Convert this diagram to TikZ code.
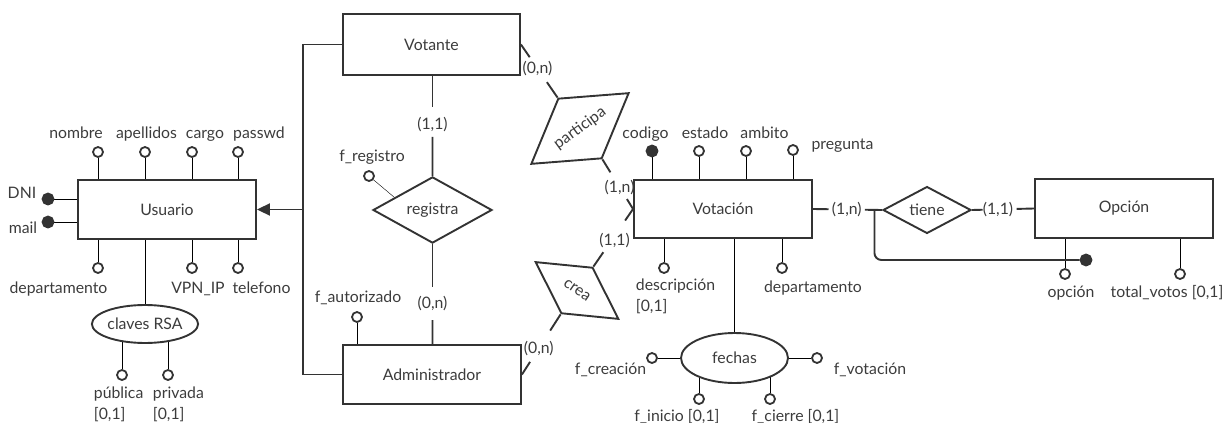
\documentclass[tikz,border=0pt]{standalone}
\usepackage{fontspec}
\setmainfont{Lato}
\usetikzlibrary{shapes.geometric,arrows.meta,calc,backgrounds}
\definecolor{ink}{HTML}{333333}
\definecolor{txt}{HTML}{3C3C3C}
\begin{document}
\begin{tikzpicture}[x=1pt,y=-1pt,line width=1.9pt,color=ink,
  txtfont/.style={font=\fontsize{15.8}{18}\selectfont,text=txt},
  entity/.style={draw,rectangle,fill=white,inner sep=0pt,txtfont},
  rel/.style={draw,diamond,fill=white,inner sep=0pt,txtfont},
  multi/.style={draw,ellipse,fill=white,inner sep=0pt,txtfont},
  attr/.style={draw,circle,fill=white,inner sep=0pt,minimum size=10pt,line width=1.8pt},
  keyattr/.style={attr,fill=ink,minimum size=11pt},
  lab/.style={inner sep=0pt,txtfont,anchor=base},
  labl/.style={inner sep=0pt,txtfont,anchor=base west},
  card/.style={inner sep=0pt,txtfont}]
\useasboundingbox (0,0) rectangle (1224,423);

% ---------- entities ----------
\node[entity,minimum width=178pt,minimum height=59pt] (us) at (167,209.5) {Usuario};
\node[entity,minimum width=177pt,minimum height=61pt] (vot) at (431.5,44.5) {Votante};
\node[entity,minimum width=178pt,minimum height=59pt] (adm) at (432,374.5) {Administrador};
\node[entity,minimum width=178pt,minimum height=58pt] (vt) at (723,209) {Votación};
\node[entity,minimum width=178pt,minimum height=59pt] (op) at (1124,208.5) {Opción};

% ---------- relationships ----------
\node[rel,minimum width=119pt,minimum height=58pt] (reg) at (432.5,210) {registra};
\node[rel,minimum width=121pt,minimum height=49pt,rotate=36] (part) at (580,128.5) {participa};
\node[rel,minimum width=101pt,minimum height=56pt,rotate=-34.5] (crea) at (577,290.5) {crea};
\node[rel,minimum width=88pt,minimum height=36pt] (tiene) at (927,210) {tiene};

% ---------- composite attributes ----------
\node[multi,minimum width=106pt,minimum height=38pt] (rsa) at (145,324) {claves RSA};
\node[multi,minimum width=107pt,minimum height=50pt] (fe) at (734.5,358) {fechas};

% ---------- Usuario attributes ----------
\node[attr] (nom) at (98,152) {};
\node[attr] (ape) at (145,152) {};
\node[attr] (car) at (192,152) {};
\node[attr] (pas) at (238,152) {};
\node[keyattr] (dni) at (48,199) {};
\node[keyattr] (mail) at (48,222) {};
\node[attr] (dep) at (98,268) {};
\node[attr] (vpn) at (192,268) {};
\node[attr] (tel) at (238,268) {};
\node[attr] (pub) at (122,375) {};
\node[attr] (pri) at (168,375) {};

\node[lab] (lnom) at (76,138) {nombre};
\node[lab] (lape) at (146.5,138) {apellidos};
\node[lab] (lcar) at (205,138) {cargo};
\node[lab] (lpas) at (259,138) {passwd};
\node[lab] (ldni) at (22,198) {DNI};
\node[lab] (lmail) at (23,233) {mail};
\node[lab] (ldep) at (58.5,293) {departamento};
\node[lab] (lvpn) at (198,293) {VPN\_IP};
\node[lab] (ltel) at (261.5,293) {telefono};
\node[labl] (lpub) at (93,398) {pública};
\node[labl] (lpub2) at (93,419) {[0,1]};
\node[labl] (lpri) at (152,398) {privada};
\node[labl] (lpri2) at (152,419) {[0,1]};

% ---------- relationship / Administrador attributes ----------
\node[attr] (freg) at (369,176) {};
\node[lab] (lfreg) at (372,161) {f\_registro};
\node[attr] (faut) at (357,317) {};
\node[lab] (lfaut) at (358,302) {f\_autorizado};

% ---------- Votación attributes ----------
\node[keyattr] (cod) at (652,151) {};
\node[attr] (est) at (699,151) {};
\node[attr] (amb) at (746,151) {};
\node[attr] (pre) at (793,150) {};
\node[attr] (des) at (664,268) {};
\node[attr] (vdep) at (782,268) {};
\node[lab] (lcod) at (645.5,138) {codigo};
\node[lab] (lest) at (705,138) {estado};
\node[lab] (lamb) at (764.5,138) {ambito};
\node[lab] (lpre) at (842.5,149) {pregunta};
\node[labl] (ldes) at (635,290) {descripción};
\node[labl] (ldes2) at (635,311) {[0,1]};
\node[lab] (lvdep) at (813,292) {departamento};

\node[attr] (fcre) at (652,358) {};
\node[attr] (fvot) at (817,358) {};
\node[attr] (fini) at (699,399) {};
\node[attr] (fcie) at (770,399) {};
\node[lab] (lfcre) at (610.5,374) {f\_creación};
\node[lab] (lfvot) at (870,374) {f\_votación};
\node[lab] (lfini) at (677,421) {f\_inicio [0,1]};
\node[lab] (lfcie) at (795.5,421) {f\_cierre [0,1]};

% ---------- Opción attributes ----------
\node[attr] (opc) at (1065,274) {};
\node[attr] (tot) at (1180,274) {};
\node[keyattr] (kd) at (1086,260) {};
\node[lab] (lopc) at (1071,297) {opción};
\node[lab] (ltot) at (1167,297) {total\_votos [0,1]};

% ---------- attribute stems (behind shapes) ----------
\begin{scope}[on background layer]
  \foreach \a in {nom,ape,car,pas} \draw (\a) -- (\a |- us.north);
  \foreach \a in {dep,vpn,tel} \draw (\a) -- (\a |- us.south);
  \draw (dni) -- (dni -| us.west);
  \draw (mail) -- (mail -| us.west);
  \draw (rsa.north |- us.south) -- (rsa.north);
  \draw (pub) -- (pub |- rsa.center);
  \draw (pri) -- (pri |- rsa.center);
  \draw (freg) -- ($(reg.west)!0.37!(reg.north)$);
  \draw (faut) -- (faut |- adm.north);
  \foreach \a in {cod,est,amb,pre} \draw (\a) -- (\a |- vt.north);
  \foreach \a in {des,vdep} \draw (\a) -- (\a |- vt.south);
  \draw (fe.north |- vt.south) -- (fe.north);
  \draw (fcre) -- (fe.center);
  \draw (fvot) -- (fe.center);
  \draw (fini) -- (fini |- fe.center);
  \draw (fcie) -- (fcie |- fe.center);
  \draw (opc) -- (opc |- op.south);
  \draw (tot) -- (tot |- op.south);
\end{scope}

% ---------- specialisation of Usuario ----------
\coordinate (bus) at (303,209.5);
\draw (vot.west) -| (bus) |- (adm.west);
\draw[-{Triangle[length=13pt,width=12pt]}] (bus) -- (us.east);

% ---------- registra ----------
\draw (vot.south -| reg.north) -- ($(vot.south -| reg.north)!0.31!(reg.north)$);
\draw ($(vot.south -| reg.north)!0.61!(reg.north)$) -- (reg.north);
\path (vot.south -| reg.north) -- node[card,pos=0.49] (c1) {(1,1)} (reg.north);
\draw (reg.south) -- ($(reg.south)!0.43!(reg.south |- adm.north)$);
\draw ($(reg.south)!0.76!(reg.south |- adm.north)$) -- (reg.south |- adm.north);
\path (reg.south) -- node[card,pos=0.59] (c2) {(0,n)} (reg.south |- adm.north);

% ---------- participa ----------
\draw (vot.east) -- ($(vot.east)!0.24!(part.north)$);
\draw ($(vot.east)!0.71!(part.north)$) -- (part.north);
\path (vot.east) -- node[card,pos=0.45] (c3) {(0,n)} (part.north);
\draw (part.south) -- ($(part.south)!0.26!(vt.west)$);
\draw ($(part.south)!0.80!(vt.west)$) -- (vt.west);
\path (part.south) -- node[card,pos=0.56] (c4) {(1,n)} (vt.west);

% ---------- crea ----------
\draw (crea.north) -- ($(crea.north)!0.25!(vt.west)$);
\draw ($(crea.north)!0.80!(vt.west)$) -- (vt.west);
\path (crea.north) -- node[card,pos=0.46,xshift=3pt] (c5) {(1,1)} (vt.west);
\draw (crea.south) -- ($(crea.south)!0.27!(adm.east)$);
\draw ($(crea.south)!0.79!(adm.east)$) -- (adm.east);
\path (crea.south) -- node[card,pos=0.565] (c6) {(0,n)} (adm.east);

% ---------- tiene ----------
\draw (vt.east) -- ($(vt.east)!0.225!(tiene.west)$);
\draw ($(vt.east)!0.75!(tiene.west)$) -- (tiene.west);
\path (vt.east) -- node[card,pos=0.49] (c7) {(1,n)} (tiene.west);
\coordinate (j) at ($(vt.east)!0.89!(tiene.west)$);
\draw[rounded corners=7pt] (j) |- (kd);
\draw (tiene.east) -- ($(tiene.east)!0.17!(op.west)$);
\draw ($(tiene.east)!0.72!(op.west)$) -- (op.west);
\path (tiene.east) -- node[card,pos=0.42] (c8) {(1,1)} (op.west);
\end{tikzpicture}
\end{document}
